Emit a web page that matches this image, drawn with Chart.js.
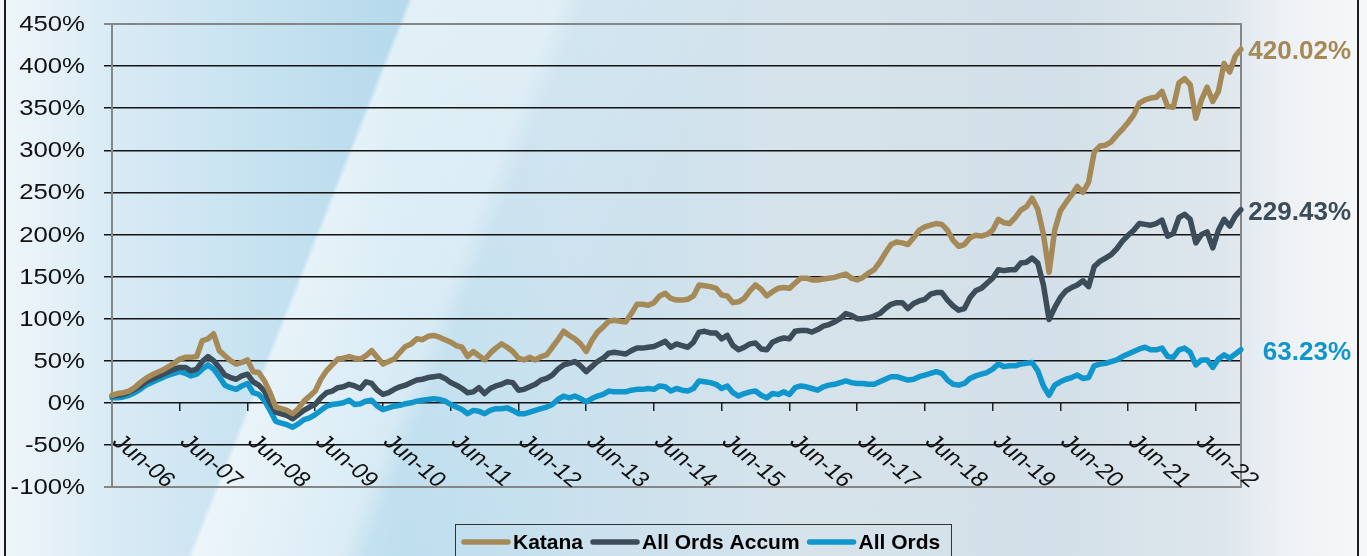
<!DOCTYPE html>
<html>
<head>
<meta charset="utf-8">
<script src="https://cdn.jsdelivr.net/npm/chart.js@4.4.1/dist/chart.umd.min.js"></script>
<style>
  html, body { margin: 0; padding: 0; }
  body {
    width: 1367px; height: 556px; overflow: hidden;
    background:
      linear-gradient(111.6deg, rgba(255,255,255,0) 0px, rgba(255,255,255,0) 379px, rgba(255,255,255,0.6) 384px, rgba(255,255,255,0.45) 520px, rgba(255,255,255,0.15) 545px, rgba(255,255,255,0) 700px),
      linear-gradient(90deg, #f0f6fa 0px, #d9ebf5 110px, #c4e1f0 280px, #b6daec 400px, #c9e1ee 560px, #d6e3eb 800px, #d3e0e9 1050px, #dde6ec 1220px, #eff2f5 1290px, #f6f7f8 1367px);
  }
  canvas { display: block; }
</style>
</head>
<body>
<canvas id="chart" width="1367" height="556"></canvas>
<script>
// monthly cumulative returns (%), Jun-06 .. Feb-23
const katana = [
  9, 11, 12, 14, 18, 24, 29, 33, 36, 39,
  43, 47, 52, 54, 54, 55, 74, 76, 82, 62,
  56, 50, 46, 48, 51, 37, 36, 26, 12, -5,
  -7, -9, -13, -7, 2, 8, 14, 28, 38, 45,
  52, 53, 55, 53, 52, 56, 62, 54, 46, 49,
  52, 60, 67, 70, 76, 75, 79, 80, 78, 75,
  72, 68, 66, 55, 61, 56, 51, 59, 65, 70,
  66, 61, 53, 51, 54, 51, 55, 57, 66, 75,
  85, 80, 76, 70, 61, 74, 84, 90, 97, 98,
  97, 96, 106, 117, 117, 116, 119, 127, 130, 124,
  122, 122, 123, 127, 140, 139, 138, 136, 128, 127,
  119, 120, 124, 133, 140, 135, 127, 132, 136, 137,
  136, 142, 148, 148, 146, 146, 147, 148, 149, 151,
  153, 148, 146, 149, 154, 158, 167, 178, 188, 191,
  190, 188, 196, 205, 209, 211, 213, 212, 205, 193,
  186, 188, 196, 199, 198, 200, 205, 218, 214, 213,
  220, 229, 233, 243, 230, 200, 155, 205, 228, 238,
  247, 257, 250, 262, 298, 305, 306, 310, 318, 325,
  333, 342, 356, 360, 362, 363, 370, 352, 351, 380,
  385, 378, 338, 360, 375, 358, 370, 403, 393, 412,
  420.02
];
const allOrdsAccum = [
  8, 9, 10, 13, 16, 20, 25, 28, 31, 34,
  37, 40, 42, 42, 38, 40, 49, 55, 50, 42,
  33, 30, 28, 32, 34, 25, 21, 14, 0, -11,
  -13, -15, -19, -14, -9, -5, -2, 6, 12, 14,
  18, 19, 22, 20, 17, 25, 23, 15, 10, 12,
  16, 19, 21, 24, 27, 28, 30, 31, 32, 29,
  24, 21, 17, 12, 13, 18, 11, 17, 20, 22,
  25, 24, 15, 16, 19, 22, 27, 29, 33, 40,
  45, 47, 49, 44, 37, 43, 49, 53, 59, 60,
  59, 58, 62, 65, 65, 66, 67, 70, 73, 66,
  70, 68, 66, 72, 84, 85, 83, 83, 76, 80,
  68, 63, 66, 70, 71, 64, 63, 72, 75, 77,
  76, 85, 86, 86, 84, 87, 91, 93, 96, 100,
  106, 104, 100, 100, 101, 103, 106, 112, 117, 119,
  119, 112, 118, 121, 123, 129, 131, 131, 122, 115,
  110, 112, 125, 133, 136, 142, 148, 158, 157, 158,
  158, 166, 167, 172, 166, 140, 99, 113, 125, 133,
  137, 140, 145, 138, 162, 168, 172, 176, 183, 192,
  199, 205, 213, 212, 211, 213, 217, 198, 201, 220,
  224, 218, 190, 200, 203, 184, 205, 218, 210, 222,
  229.43
];
const allOrds = [
  6, 6, 7, 9, 12, 16, 21, 24, 27, 30,
  33, 35, 37, 35, 32, 34, 40, 45, 40, 31,
  21, 18, 16, 20, 23, 12, 10, 3, -9, -22,
  -24, -26, -29, -25, -20, -18, -14, -9, -4, -2,
  -1, 0, 3, -2, -1, 2, 3, -4, -8, -6,
  -4, -3, -1, 0, 2, 3, 4, 5, 4, 2,
  -2, -5, -8, -13, -9, -10, -13, -9, -7, -7,
  -6, -9, -13, -13, -11, -9, -7, -5, -2, 4,
  8, 6, 8, 5, 1, 5, 8, 10, 14, 13,
  13, 13, 15, 16, 16, 17, 16, 20, 19, 14,
  17, 15, 14, 17, 26, 25, 24, 22, 17, 20,
  12, 8, 11, 13, 14, 9, 6, 11, 10, 13,
  10, 18, 20, 19, 17, 15, 19, 21, 22, 24,
  26, 24, 23, 23, 22, 22, 25, 28, 31, 31,
  29, 27, 28, 31, 33, 35, 37, 35, 27, 22,
  21, 23, 29, 32, 34, 36, 40, 46, 43, 44,
  44, 46, 47, 48, 38, 20, 9, 21, 25, 28,
  30, 33, 29, 30, 44, 46, 47, 49, 51, 55,
  58, 61, 64, 66, 63, 63, 65, 55, 54, 63,
  65, 60, 45, 51, 51, 42, 52, 57, 53, 58,
  63.23
];

const seriesNames = ['Katana', 'All Ords Accum', 'All Ords'];
const seriesColors = ['#a58a57', '#3c4c58', '#0f96cc'];
const monthNames = ['Jan', 'Feb', 'Mar', 'Apr', 'May', 'Jun', 'Jul', 'Aug', 'Sep', 'Oct', 'Nov', 'Dec'];
const yTicks = [-100, -50, 0, 50, 100, 150, 200, 250, 300, 350, 400, 450];

// month categories starting Jun-06
const months = katana.map((_, k) => {
    const m = 5 + k;
    return monthNames[m % 12] + '-' + String(6 + Math.floor(m / 12)).padStart(2, '0');
});
const isJune = i => months[i] && months[i].startsWith('Jun');

const FONT = "'Liberation Sans', Arial, sans-serif";

const overlay = {
    id: 'overlay',
    beforeDraw(chart) {
        const ctx = chart.ctx;
        ctx.save();
        ctx.fillStyle = '#1c1c1c';
        ctx.fillRect(4, 0, 2, chart.height);
        ctx.fillRect(1357, 0, 2, chart.height);
        ctx.restore();
    },
    beforeDatasetsDraw(chart) {
        const { ctx, chartArea: a } = chart;
        ctx.save();
        ctx.strokeStyle = '#868686';
        ctx.lineWidth = 2;
        ctx.strokeRect(a.left, a.top, a.right - a.left, a.bottom - a.top);
        ctx.restore();
    },
    afterDraw(chart) {
        const { ctx, scales: { x, y } } = chart;
        ctx.save();
        ctx.fillStyle = '#111';

        // y tick labels (slightly stretched like the original)
        ctx.font = '22px ' + FONT;
        ctx.textAlign = 'right';
        ctx.textBaseline = 'middle';
        yTicks.forEach(v => {
            ctx.save();
            ctx.translate(85, y.getPixelForValue(v) + 1);
            ctx.scale(1.17, 1);
            ctx.fillText(v + '%', 0, 0);
            ctx.restore();
        });

        // x labels, rotated down-right from each June tick
        const y0 = y.getPixelForValue(0);
        ctx.font = '21px ' + FONT;
        ctx.textAlign = 'left';
        ctx.textBaseline = 'alphabetic';
        months.forEach((m, i) => {
            if (!isJune(i)) return;
            ctx.save();
            ctx.translate(x.getPixelForValue(i) - 1, y0 + 40);
            ctx.scale(1.2, 1);
            ctx.rotate(Math.PI / 4);
            ctx.fillText(m, 0, 0);
            ctx.restore();
        });

        // end-of-series values
        ctx.font = 'bold 26px ' + FONT;
        ctx.textAlign = 'right';
        chart.data.datasets.forEach(ds => {
            const last = ds.data[ds.data.length - 1];
            ctx.fillStyle = ds.borderColor;
            ctx.fillText(last.toFixed(2) + '%', 1351, y.getPixelForValue(last) + 10);
        });

        // legend box
        ctx.strokeStyle = '#333';
        ctx.lineWidth = 1;
        ctx.strokeRect(455.5, 524.5, 496, 60);
        ctx.font = 'bold 21px ' + FONT;
        ctx.textAlign = 'left';
        let lx = 462;
        chart.data.datasets.forEach(ds => {
            ctx.strokeStyle = ds.borderColor;
            ctx.lineWidth = 5.5;
            ctx.lineCap = 'round';
            ctx.beginPath();
            ctx.moveTo(lx + 2, 542);
            ctx.lineTo(lx + 46, 542);
            ctx.stroke();
            lx += 51;
            ctx.fillStyle = '#000';
            ctx.fillText(ds.label, lx, 549);
            lx += ctx.measureText(ds.label).width + 8;
        });
        ctx.restore();
    }
};

new Chart(document.getElementById('chart'), {
    type: 'line',
    data: {
        labels: months,
        datasets: [katana, allOrdsAccum, allOrds].map((d, i) => ({
            label: seriesNames[i],
            data: d,
            borderColor: seriesColors[i],
            backgroundColor: seriesColors[i]
        }))
    },
    options: {
        responsive: false,
        animation: false,
        layout: { padding: { top: 24, right: 126, bottom: 69, left: 0 } },
        elements: {
            point: { radius: 0 },
            line: { borderWidth: 5.5, tension: 0, borderJoinStyle: 'round', borderCapStyle: 'round' }
        },
        plugins: { legend: { display: false }, tooltip: { enabled: false } },
        scales: {
            x: {
                position: { y: 0 },
                ticks: { display: false, autoSkip: false },
                grid: {
                    drawOnChartArea: false,
                    drawTicks: true,
                    tickLength: 8,
                    lineWidth: 1.5,
                    color: c => isJune(c.index) ? '#222' : 'rgba(0,0,0,0)'
                },
                border: { display: false }
            },
            y: {
                min: -100,
                max: 450,
                ticks: { display: false, stepSize: 50 },
                grid: {
                    tickLength: 8,
                    color: c => (c.tick && (c.tick.value === 450 || c.tick.value === -100)) ? '#868686' : '#141414',
                    lineWidth: c => (c.tick && (c.tick.value === 450 || c.tick.value === -100)) ? 2 : 1.5
                },
                border: { color: '#868686', width: 2 },
                afterFit: s => { s.width = 112; }
            }
        }
    },
    plugins: [overlay]
});
</script>
</body>
</html>
